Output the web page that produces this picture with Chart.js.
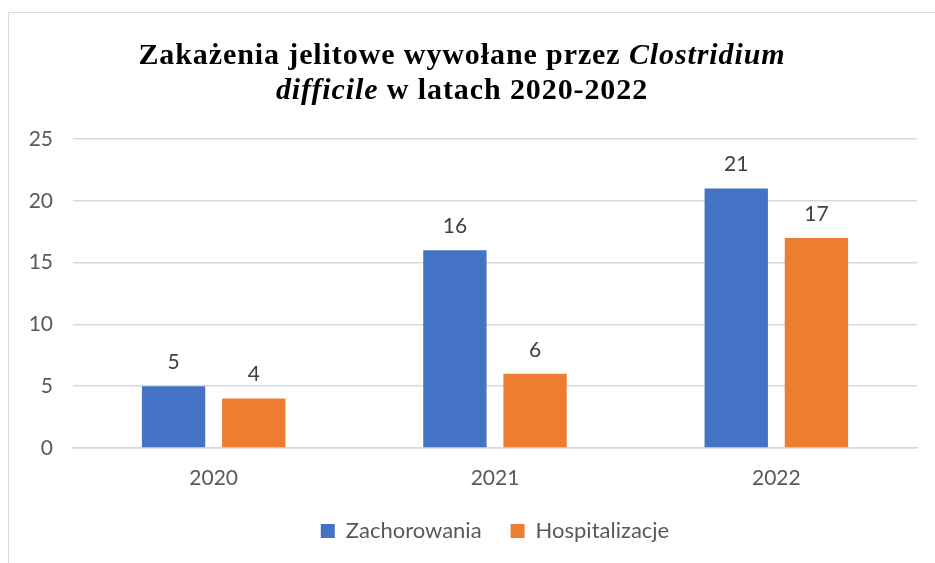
<!DOCTYPE html>
<html>
<head>
<meta charset="utf-8">
<script src="https://cdn.jsdelivr.net/npm/chart.js@4.4.1/dist/chart.umd.min.js"></script>
<style>
  html, body { margin: 0; padding: 0; background: #fff; }
  #wrap { position: relative; width: 935px; height: 563px; overflow: hidden; }
  #frame { position: absolute; left: 8px; top: 12px; width: 1000px; height: 1000px;
    border-top: 1.5px solid #d9d9d9; border-left: 1.5px solid #d9d9d9; }
  #title { position: absolute; left: 0; top: 36px; width: 924px; text-align: center;
    font-family: "Liberation Serif", "Times New Roman", serif; font-weight: bold;
    font-size: 30px; line-height: 35px; letter-spacing: 0.9px; color: #000; }
  canvas { position: absolute; left: 0; top: 0; }
</style>
</head>
<body>
<div id="wrap">
  <div id="frame"></div>
  <canvas id="chart" width="935" height="563"></canvas>
  <div id="title">Zakażenia jelitowe wywołane przez <i>Clostridium</i><br><i>difficile</i> w latach 2020-2022</div>
</div>
<script>
const years = ['2020', '2021', '2022'];
const zachorowania = [5, 16, 21];
const hospitalizacje = [4, 6, 17];
const seriesNames = ['Zachorowania', 'Hospitalizacje'];

const font = { family: 'Lato, "Open Sans", sans-serif', size: 21 };

// value labels above the bars
const barValues = {
  id: 'barValues',
  afterDatasetsDraw(chart) {
    const ctx = chart.ctx;
    ctx.save();
    ctx.font = `${font.size}px ${font.family}`;
    ctx.fillStyle = '#404040';
    ctx.textAlign = 'center';
    ctx.textBaseline = 'middle';
    chart.data.datasets.forEach((ds, i) => {
      chart.getDatasetMeta(i).data.forEach((bar, j) => {
        ctx.fillText(ds.data[j], bar.x, bar.y - 24);
      });
    });
    ctx.restore();
  }
};

new Chart(document.getElementById('chart'), {
  type: 'bar',
  data: {
    labels: years,
    datasets: [
      { label: seriesNames[0], data: zachorowania, backgroundColor: '#4472C4' },
      { label: seriesNames[1], data: hospitalizacje, backgroundColor: '#ED7D31' },
    ],
  },
  options: {
    responsive: false,
    animation: false,
    layout: { padding: { top: 139, right: 18, bottom: 11, left: 20 } },
    datasets: { bar: { barPercentage: 0.79, categoryPercentage: 0.57 } },
    plugins: {
      title: { display: false },
      tooltip: { enabled: false },
      legend: {
        position: 'bottom',
        fullSize: false,
        labels: { color: '#595959', font: { ...font, size: 22 }, boxWidth: 14, boxHeight: 14, padding: 29 },
      },
    },
    scales: {
      x: {
        grid: { display: false },
        border: { color: '#d9d9d9', width: 1.5 },
        ticks: { color: '#595959', font, padding: 10 },
        afterFit(scale) { scale.height = 43; },
      },
      y: {
        min: 0,
        max: 25,
        ticks: { stepSize: 5, color: '#595959', font, padding: 20 },
        grid: { color: '#d9d9d9', lineWidth: 1.5, drawTicks: false },
        border: { display: false },
        afterFit(scale) { scale.width = 53; },
      },
    },
  },
  plugins: [barValues],
});
</script>
</body>
</html>
